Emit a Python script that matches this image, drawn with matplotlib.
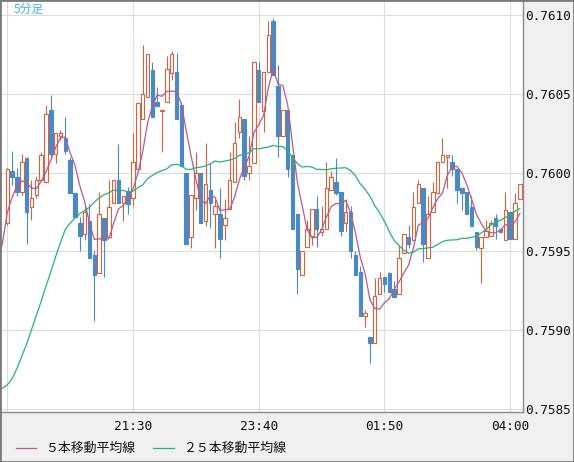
import matplotlib
matplotlib.use("Agg")
import matplotlib.pyplot as plt
from matplotlib.patches import Rectangle
from matplotlib.lines import Line2D
import numpy as np
import pandas as pd

# 5分足, 19:20 - 04:10
start_time = "2021-03-01 19:20"

opens = [0.75968, 0.76001, 0.75997, 0.75988, 0.76009, 0.75978, 0.75986, 0.75995, 0.75994, 0.76040,
         0.76012, 0.76023, 0.76022, 0.76008, 0.75987, 0.75968, 0.75961, 0.75969, 0.75948, 0.75936,
         0.75971, 0.75959, 0.75981, 0.75995, 0.75981, 0.75988, 0.75984, 0.76002, 0.76034, 0.76048,
         0.76065, 0.76045, 0.76039, 0.76045, 0.76063, 0.76064, 0.76043, 0.76000, 0.75959, 0.75984,
         0.76000, 0.75969, 0.75989, 0.75974, 0.75974, 0.75967, 0.75977, 0.75994, 0.76026, 0.76034,
         0.76000, 0.76006, 0.76065, 0.76039, 0.76064, 0.76096, 0.76055, 0.76023, 0.76040, 0.76011,
         0.75974, 0.75935, 0.75953, 0.75960, 0.75977, 0.75962, 0.75964, 0.75989, 0.75994, 0.75988,
         0.75968, 0.75975, 0.75948, 0.75937, 0.75909, 0.75896, 0.75892, 0.75923, 0.75934, 0.75936,
         0.75926, 0.75923, 0.75949, 0.75959, 0.75957, 0.75981, 0.75990, 0.75946, 0.75975, 0.75987,
         0.76007, 0.76010, 0.76007, 0.76002, 0.75990, 0.75988, 0.75978, 0.75962, 0.75952, 0.75959,
         0.75960, 0.75971, 0.75964, 0.75957, 0.75975, 0.75958, 0.75983]
highs = [0.76003, 0.76014, 0.76003, 0.76012, 0.76010, 0.75995, 0.75998, 0.76013, 0.76043, 0.76049,
         0.76025, 0.76027, 0.76035, 0.76010, 0.75987, 0.75972, 0.75979, 0.75980, 0.75950, 0.75988,
         0.75971, 0.75995, 0.75995, 0.76018, 0.75985, 0.75991, 0.76025, 0.76044, 0.76081, 0.76075,
         0.76070, 0.76054, 0.76040, 0.76074, 0.76077, 0.76076, 0.76045, 0.76000, 0.75986, 0.76013,
         0.76000, 0.76019, 0.76006, 0.75983, 0.75990, 0.75983, 0.76013, 0.76032, 0.76047, 0.76034,
         0.76023, 0.76070, 0.76070, 0.76064, 0.76096, 0.76098, 0.76068, 0.76040, 0.76040, 0.76011,
         0.75974, 0.75950, 0.75970, 0.75977, 0.75985, 0.75979, 0.76007, 0.76001, 0.76009, 0.75988,
         0.75983, 0.75979, 0.75950, 0.75941, 0.75913, 0.75896, 0.75933, 0.75937, 0.75934, 0.75937,
         0.75931, 0.75954, 0.75961, 0.75967, 0.75988, 0.75995, 0.75990, 0.75985, 0.75994, 0.76007,
         0.76022, 0.76011, 0.76011, 0.76002, 0.75990, 0.75988, 0.75985, 0.75962, 0.75959, 0.75970,
         0.75970, 0.75974, 0.75964, 0.75988, 0.75975, 0.75987, 0.75993]
lows = [0.75967, 0.75992, 0.75985, 0.75986, 0.75955, 0.75970, 0.75984, 0.75995, 0.75994, 0.76010,
        0.76006, 0.76021, 0.76012, 0.75987, 0.75972, 0.75950, 0.75957, 0.75946, 0.75906, 0.75936,
        0.75934, 0.75959, 0.75981, 0.75981, 0.75969, 0.75974, 0.75979, 0.76002, 0.76034, 0.76048,
        0.76035, 0.76042, 0.76013, 0.76045, 0.76059, 0.76034, 0.76004, 0.75955, 0.75952, 0.75976,
        0.75968, 0.75966, 0.75965, 0.75952, 0.75946, 0.75957, 0.75977, 0.75994, 0.76022, 0.75995,
        0.75995, 0.76006, 0.76045, 0.76026, 0.76064, 0.76062, 0.76010, 0.76023, 0.75997, 0.75964,
        0.75923, 0.75935, 0.75953, 0.75954, 0.75953, 0.75960, 0.75964, 0.75989, 0.75986, 0.75960,
        0.75962, 0.75946, 0.75935, 0.75909, 0.75902, 0.75879, 0.75892, 0.75923, 0.75924, 0.75924,
        0.75921, 0.75923, 0.75949, 0.75952, 0.75957, 0.75981, 0.75943, 0.75946, 0.75975, 0.75987,
        0.76007, 0.75990, 0.75998, 0.75981, 0.75976, 0.75974, 0.75966, 0.75951, 0.75930, 0.75959,
        0.75960, 0.75958, 0.75962, 0.75957, 0.75958, 0.75958, 0.75983]
closes = [0.76002, 0.75997, 0.75988, 0.76007, 0.75975, 0.75984, 0.75995, 0.76011, 0.76037, 0.76012,
          0.76025, 0.76025, 0.76014, 0.75987, 0.75972, 0.75960, 0.75975, 0.75946, 0.75935, 0.75974,
          0.75957, 0.75978, 0.75995, 0.75981, 0.75985, 0.75980, 0.76007, 0.76044, 0.76050, 0.76075,
          0.76035, 0.76042, 0.76040, 0.76066, 0.76075, 0.76034, 0.76004, 0.75955, 0.75986, 0.76000,
          0.75968, 0.75993, 0.75981, 0.75979, 0.75958, 0.75971, 0.75995, 0.76019, 0.76035, 0.75998,
          0.76004, 0.76070, 0.76045, 0.76064, 0.76087, 0.76062, 0.76023, 0.76040, 0.76002, 0.75964,
          0.75939, 0.75950, 0.75964, 0.75977, 0.75964, 0.75964, 0.75990, 0.75997, 0.75987, 0.75963,
          0.75975, 0.75950, 0.75935, 0.75909, 0.75911, 0.75892, 0.75922, 0.75933, 0.75929, 0.75924,
          0.75921, 0.75946, 0.75961, 0.75955, 0.75978, 0.75993, 0.75955, 0.75974, 0.75988, 0.76007,
          0.76011, 0.76011, 0.76002, 0.75989, 0.75987, 0.75974, 0.75966, 0.75953, 0.75959, 0.75963,
          0.75968, 0.75966, 0.75962, 0.75976, 0.75958, 0.75981, 0.75993]
# closes before the window, only needed for the moving averages
prev_closes = [0.75951, 0.75898, 0.75826, 0.75813, 0.75781, 0.75759, 0.75769, 0.75786, 0.75796,
               0.75787, 0.75783, 0.75799, 0.75805, 0.75889, 0.75889, 0.75893, 0.75924, 0.75896,
               0.75853, 0.75907, 0.75906, 0.75948, 0.75953, 0.75990, 0.75980]

time_labels = ["19:20", "21:30", "23:40", "01:50", "04:00"]
price_ticks = [0.7585, 0.7590, 0.7595, 0.7600, 0.7605, 0.7610]
ma_names = ["５本移動平均線", "２５本移動平均線"]
title = "5分足"

up_color = "#d8603c"
down_color = "#4a89c3"
ma_colors = ["#b85a8c", "#27b27a"]
cjk = ["Noto Sans CJK JP", "DejaVu Sans"]

times = pd.date_range(start_time, periods=len(closes), freq="5min")
hhmm = list(times.strftime("%H:%M"))
n = len(closes)

all_close = pd.Series(prev_closes + closes)
ma5 = all_close.rolling(5).mean().to_numpy()
ma25 = all_close.rolling(25).mean().to_numpy()
ma_x = np.arange(-len(prev_closes), n)

W, H = 574, 462
fig = plt.figure(figsize=(W / 100, H / 100), dpi=100, facecolor="#f0f0f0")
ax = fig.add_axes([1 / W, 50 / H, 522 / W, 411 / H])
ax.set_facecolor("white")
ax.set_xlim(-1.3, 106.66)
ax.set_ylim(0.758481, 0.7610888)

tick_pos = [hhmm.index(t) for t in time_labels]
ax.set_xticks(tick_pos)
ax.set_xticklabels(time_labels, fontfamily="DejaVu Sans Mono", fontsize=9.2, color="#111111")
ax.get_xticklabels()[0].set_visible(False)
ax.set_yticks(price_ticks)
ax.set_yticklabels(["%.4f" % p for p in price_ticks], fontfamily="DejaVu Sans Mono",
                   fontsize=9.2, color="#111111")
ax.yaxis.tick_right()
ax.tick_params(axis="y", length=0, pad=1.5)
ax.tick_params(axis="x", length=0, pad=6)
ax.grid(color="#dddddd", linewidth=0.8)
ax.set_axisbelow(True)

for s in ["left", "top"]:
    ax.spines[s].set_visible(False)
for s in ["right", "bottom"]:
    ax.spines[s].set_color("#8a8a8a")
    ax.spines[s].set_linewidth(1)

bw = 0.72
for i in range(n):
    o, h, l, c = opens[i], highs[i], lows[i], closes[i]
    up = c >= o
    col = up_color if up else down_color
    ax.vlines(i, l, h, color=col, linewidth=0.8, zorder=2)
    body = max(abs(c - o), 0.000004)
    ax.add_patch(Rectangle((i - bw / 2, min(o, c)), bw, body,
                           facecolor="white" if up else col, edgecolor=col,
                           linewidth=0.8, zorder=3))

ax.plot(ma_x, ma5, color=ma_colors[0], linewidth=0.9, zorder=4)
ax.plot(ma_x, ma25, color=ma_colors[1], linewidth=0.9, zorder=4)

fig.text(14 / W, 1 - 9 / H, title, color="#3ab6ee", fontsize=8.5, fontfamily=cjk, va="center")

# legend under the chart
ly = 14 / H
fig.add_artist(Line2D([16 / W, 36 / W], [ly, ly], color=ma_colors[0], linewidth=0.9))
fig.text(45 / W, ly, ma_names[0], fontsize=9.3, fontfamily=cjk, va="center", color="#111111")
fig.add_artist(Line2D([153 / W, 174 / W], [ly, ly], color=ma_colors[1], linewidth=0.9))
fig.text(183 / W, ly, ma_names[1], fontsize=9.3, fontfamily=cjk, va="center", color="#111111")

fig.add_artist(Rectangle((0, 0), 1, 1, transform=fig.transFigure, fill=False,
                         edgecolor="#7a7a7a", linewidth=2))

fig.savefig("out.png", dpi=100, facecolor=fig.get_facecolor())
